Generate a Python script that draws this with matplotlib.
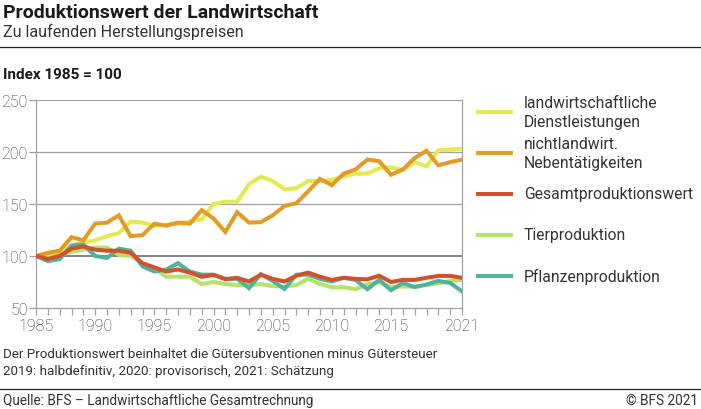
import matplotlib
matplotlib.use("Agg")
import matplotlib.pyplot as plt
from matplotlib.lines import Line2D

plt.rcParams['font.family'] = ['Roboto', 'DejaVu Sans']

years = list(range(1985, 2022))

dienstleistungen = [100, 101, 102, 110, 113, 115, 119, 122, 133, 132, 129, 130, 131, 133, 135, 150, 152, 152, 169, 176,
                    172, 164, 165, 172, 172, 173, 176.5, 179, 179, 184, 185, 182.6, 190, 186, 201.5, 202, 203]
nebentaetigkeiten = [100, 103, 105, 118, 115, 131, 132, 139, 119, 120, 131, 129, 132, 131, 144, 136, 123, 142, 132, 132.4,
                     139, 148, 150.6, 162, 174, 168, 179, 183, 192.5, 191, 178, 183, 194, 201, 187, 190, 192.5]
gesamt = [100, 97, 100, 107, 109, 106, 105, 105, 103, 93, 89, 85, 87, 84, 80, 81.8, 77.7, 79, 75.5, 82,
          78, 75.5, 81, 84, 80, 77, 79, 78, 77.6, 81, 75, 77, 77, 79, 80.8, 80.8, 79]
tier = [100, 100, 101, 104, 106, 108, 108, 101, 100, 93, 88, 80, 80, 80, 73, 75, 73, 72, 72, 73,
        71, 70.5, 72, 78, 73, 70, 70, 68, 73, 74.5, 70, 70.6, 70.6, 72, 73.7, 76, 77]
pflanzen = [100, 95, 97, 110, 111, 100, 98, 107, 105, 90, 85, 87, 93, 85, 82, 82, 78, 78, 69, 82.5,
            76, 68.3, 82, 82, 78, 75.5, 79, 77, 68, 77, 67, 74, 70, 72.6, 76, 74, 66]

labels = ["landwirtschaftliche\nDienstleistungen", "nichtlandwirt.\nNebentätigkeiten",
          "Gesamtproduktionswert", "Tierproduktion", "Pflanzenproduktion"]
colors = ["#e3ea4f", "#e39b26", "#d4502a", "#b5e36a", "#4fb3a0"]
series = [dienstleistungen, nebentaetigkeiten, gesamt, tier, pflanzen]

y_ticks = [50, 100, 150, 200, 250]
x_ticks = [1985, 1990, 1995, 2000, 2005, 2010, 2015, 2021]

W, H = 701, 410
fig = plt.figure(figsize=(W / 100, H / 100), dpi=100)

def fx(px):
    return px / W

def fy(py):
    return 1 - py / H

ax = fig.add_axes([fx(36), fy(309), fx(462) - fx(36), fy(100.7) - fy(309)])

for v in y_ticks[1:]:
    ax.axhline(v, color="#777777" if v == 100 else "#a0a0a0", lw=1.3 if v == 100 else 0.9, zorder=1)

draw_order = [0, 3, 4, 1, 2]
for i in draw_order:
    ax.plot(years, series[i], color=colors[i], lw=2.9, solid_joinstyle="miter", zorder=3 + draw_order.index(i))

ax.set_xlim(1985, 2021)
ax.set_ylim(50, 250)
ax.set_yticks(y_ticks)
ax.set_xticks(years, minor=True)
ax.set_xticks(x_ticks)
ax.set_xticklabels([str(x) for x in x_ticks])
ax.spines["top"].set_visible(False)
for s in ["left", "right", "bottom"]:
    ax.spines[s].set_color("#a0a0a0")
    ax.spines[s].set_linewidth(0.9)
ax.tick_params(axis="both", which="both", color="#a0a0a0", width=0.9, labelsize=11.5, labelcolor="#333333")
ax.tick_params(axis="x", which="both", length=5, pad=2)
ax.tick_params(axis="y", length=5, pad=1)
for t in ax.get_xticklabels() + ax.get_yticklabels():
    t.set_fontweight("light")

# Legend (manual)
leg_y = [113, 154, 195, 236, 277]
for lab, c, yy in zip(labels, colors, leg_y):
    fig.add_artist(Line2D([fx(478), fx(511)], [fy(yy), fy(yy)], color=c, lw=2.9, transform=fig.transFigure))
    fig.text(fx(524), fy(yy), lab, fontsize=11.3, color="#333333", va="center", ha="left",
             linespacing=1.35, fontweight="normal")

# Title and texts
fig.text(fx(3), fy(13), "Produktionswert der Landwirtschaft", fontsize=14, fontweight="bold",
         color="#1a1a1a", va="center", ha="left")
fig.text(fx(3), fy(32), "Zu laufenden Herstellungspreisen", fontsize=11.6, color="#333333",
         va="center", ha="left", fontweight="normal")
fig.add_artist(Line2D([0, 1], [fy(48), fy(48)], color="#222222", lw=0.9, transform=fig.transFigure))
fig.text(fx(3), fy(75), "Index 1985 = 100", fontsize=11, fontweight="bold", color="#1a1a1a",
         va="center", ha="left")

fig.text(fx(3), fy(355), "Der Produktionswert beinhaltet die Gütersubventionen minus Gütersteuer",
         fontsize=9.6, color="#333333", va="center", ha="left", fontweight="normal")
fig.text(fx(3), fy(372), "2019: halbdefinitiv, 2020: provisorisch, 2021: Schätzung",
         fontsize=9.6, color="#333333", va="center", ha="left", fontweight="normal")
fig.add_artist(Line2D([0, 1], [fy(390), fy(390)], color="#222222", lw=0.9, transform=fig.transFigure))
fig.text(fx(3), fy(401), "Quelle: BFS – Landwirtschaftliche Gesamtrechnung",
         fontsize=9.8, color="#333333", va="center", ha="left", fontweight="normal")
fig.text(fx(698), fy(401), "© BFS 2021", fontsize=9.8, color="#333333", va="center", ha="right",
         fontweight="normal")

fig.savefig("out.png", dpi=100)
